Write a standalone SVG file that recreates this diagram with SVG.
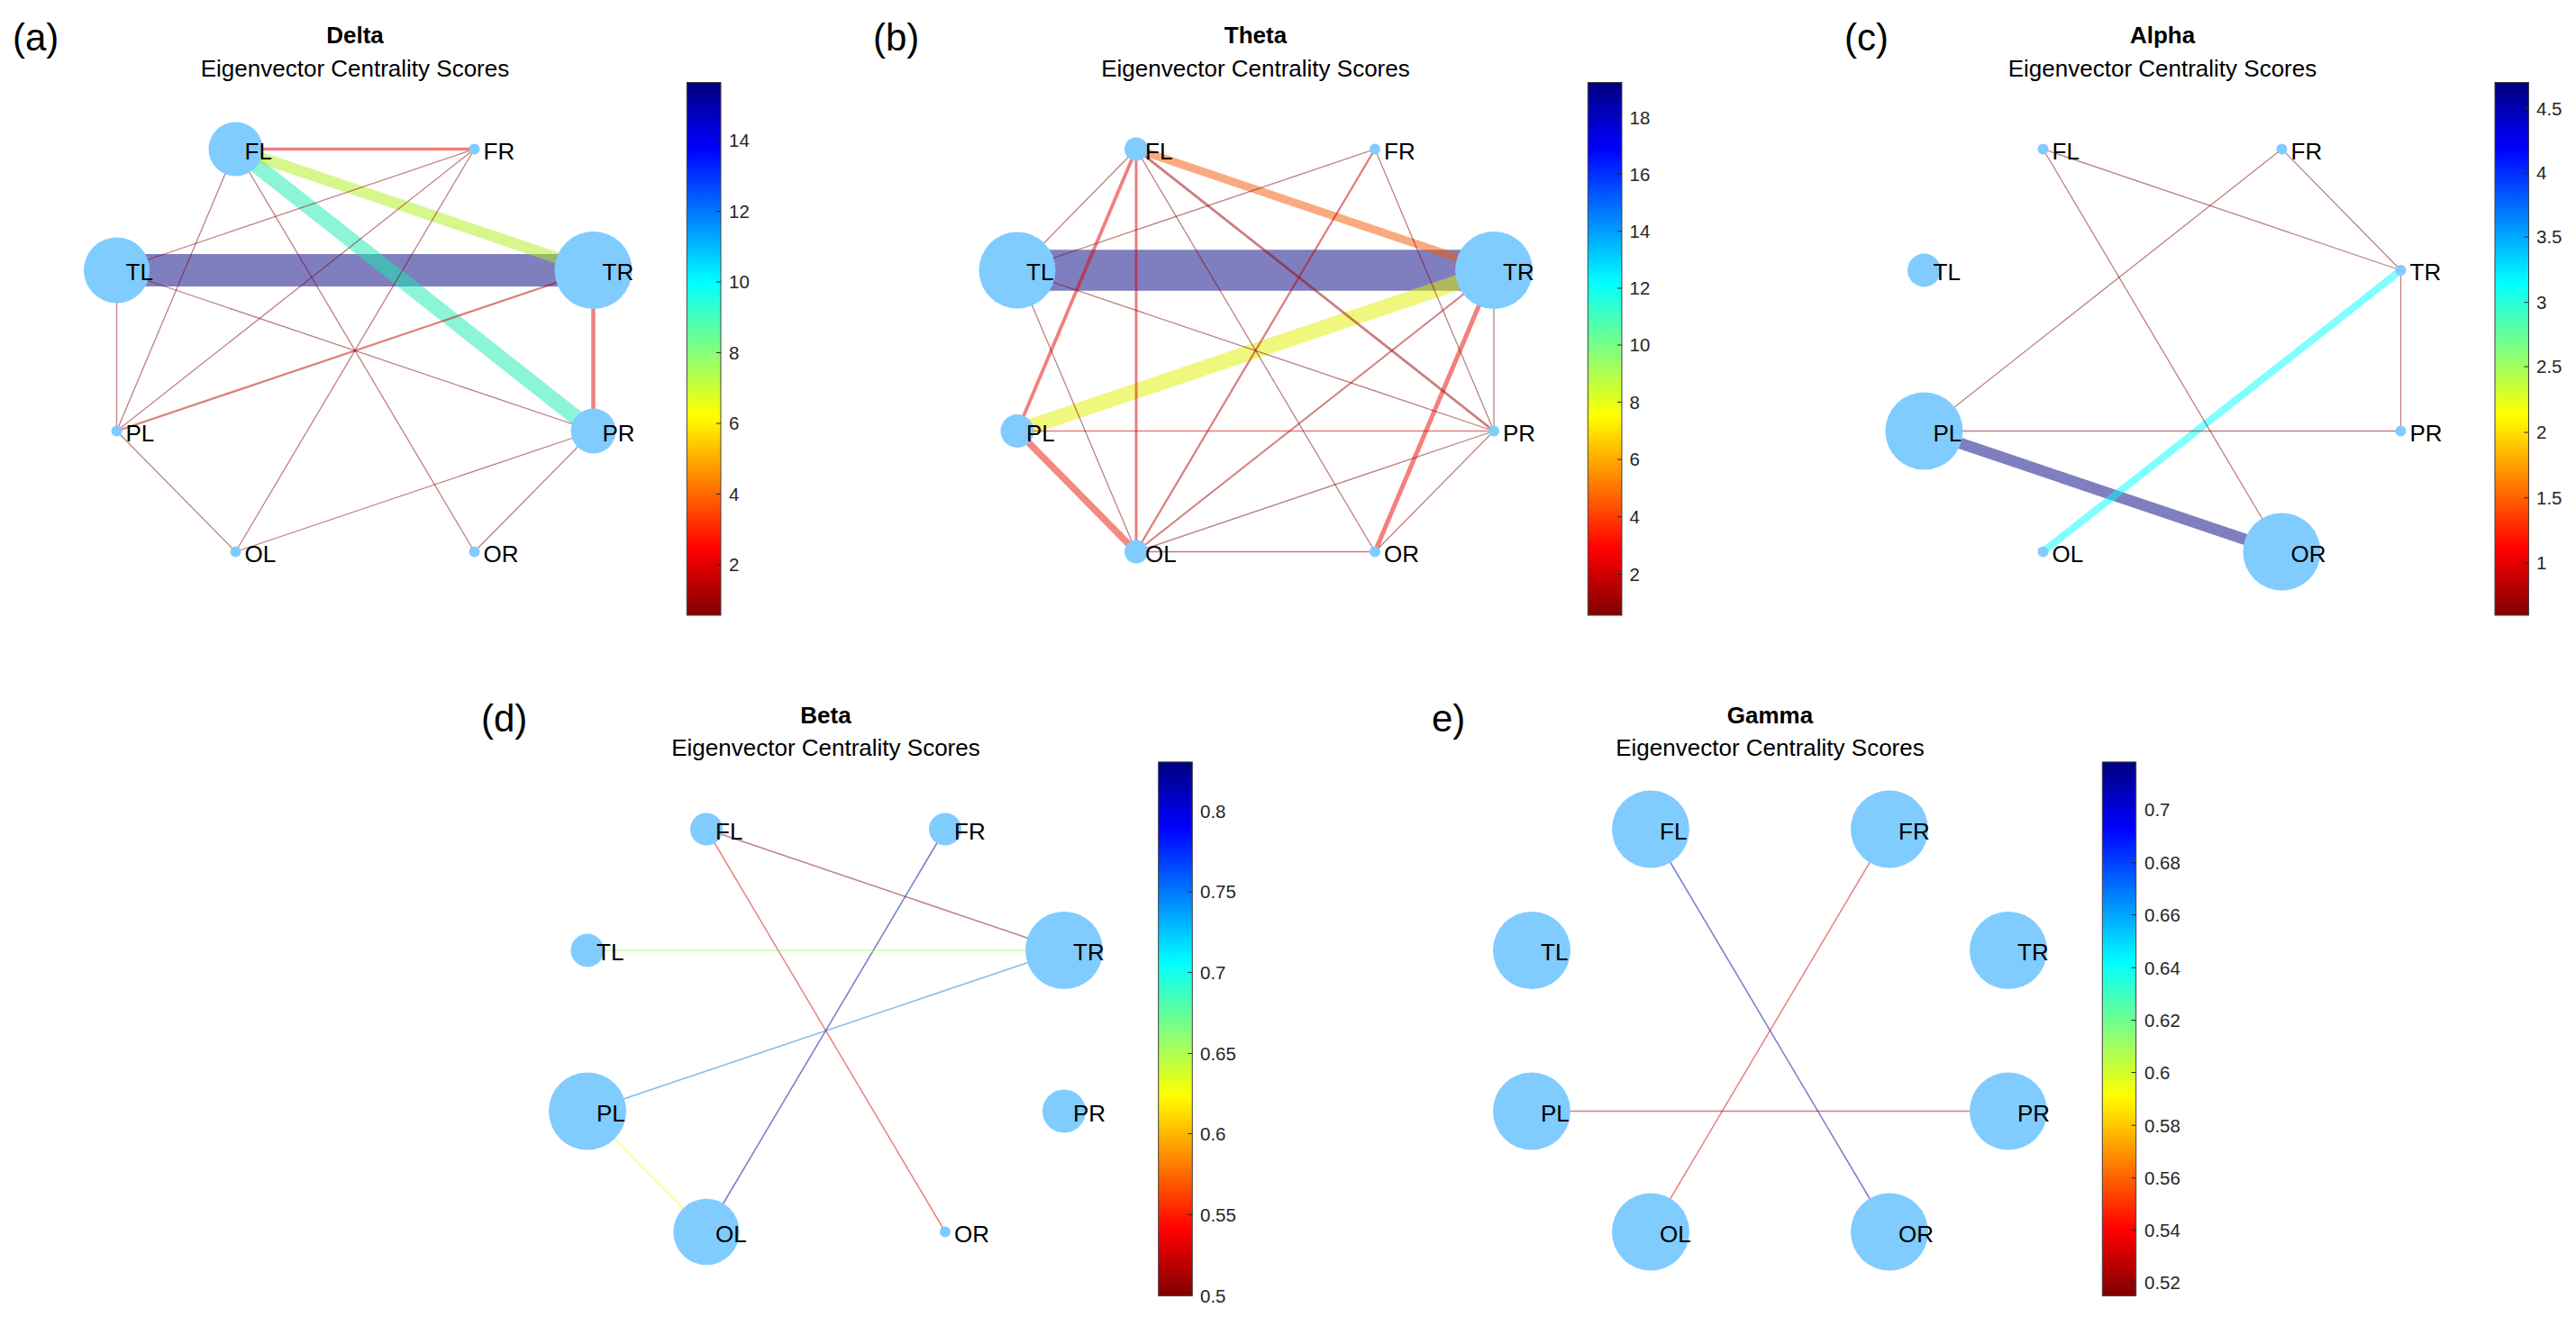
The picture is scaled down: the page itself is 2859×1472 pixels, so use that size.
<svg xmlns="http://www.w3.org/2000/svg" width="2859" height="1472" viewBox="0 0 2859 1472">
<style>
text{font-family:"Liberation Sans",Arial,Helvetica,sans-serif}
.plab{font-size:42px;fill:#000}
.ttl{font-size:26px;font-weight:bold;fill:#000;text-anchor:middle}
.sub{font-size:26px;fill:#000;text-anchor:middle}
.nl{font-size:26px;fill:#000}
.nd{fill:rgb(128,204,255)}
.e{fill:none;stroke-opacity:0.5;stroke-linecap:butt}
.thin{stroke:rgb(128,0,0);stroke-width:1.3}
.cb{stroke:#404040;stroke-width:1}
.tk{stroke:#262626;stroke-width:1}
.tl{font-size:20.5px;fill:#262626}
</style>
<defs>
<linearGradient id="jet" x1="0" y1="0" x2="0" y2="1">
<stop offset="0" stop-color="#000080"/>
<stop offset="0.125" stop-color="#0000FF"/>
<stop offset="0.375" stop-color="#00FFFF"/>
<stop offset="0.625" stop-color="#FFFF00"/>
<stop offset="0.875" stop-color="#FF0000"/>
<stop offset="1" stop-color="#800000"/>
</linearGradient>
</defs>
<rect width="2859" height="1472" fill="#fff"/>

<!-- Panel a -->
<g id="panel-a">
<text class="plab" x="14" y="56">(a)</text>
<text class="ttl" x="394" y="47.5">Delta</text>
<text class="sub" x="394" y="85">Eigenvector Centrality Scores</text>
<g id="a-connectors">
<line class="e" x1="129.5" y1="300" x2="658.5" y2="300" stroke="#00007F" stroke-width="36"/>
<line class="e" x1="261.5" y1="165.5" x2="658.5" y2="478.5" stroke="rgb(25,235,175)" stroke-width="17"/>
<line class="e" x1="261.5" y1="165.5" x2="658.5" y2="300" stroke="rgb(175,240,25)" stroke-width="12.5"/>
<line class="e" x1="261.5" y1="165.5" x2="526.5" y2="165.5" stroke="rgb(230,0,0)" stroke-width="3.6"/>
<line class="e" x1="658.5" y1="300" x2="658.5" y2="478.5" stroke="rgb(230,0,0)" stroke-width="4.5"/>
<line class="e" x1="129.5" y1="478.5" x2="658.5" y2="300" stroke="rgb(190,0,0)" stroke-width="2.3"/>
<line class="e thin" x1="261.5" y1="165.5" x2="129.5" y2="478.5"/>
<line class="e thin" x1="261.5" y1="165.5" x2="526.5" y2="612.5"/>
<line class="e thin" x1="526.5" y1="165.5" x2="129.5" y2="300"/>
<line class="e thin" x1="526.5" y1="165.5" x2="129.5" y2="478.5"/>
<line class="e thin" x1="526.5" y1="165.5" x2="261.5" y2="612.5"/>
<line class="e thin" x1="129.5" y1="300" x2="129.5" y2="478.5"/>
<line class="e thin" x1="129.5" y1="300" x2="658.5" y2="478.5"/>
<line class="e thin" x1="129.5" y1="478.5" x2="261.5" y2="612.5"/>
<line class="e thin" x1="261.5" y1="612.5" x2="658.5" y2="478.5"/>
<line class="e thin" x1="526.5" y1="612.5" x2="658.5" y2="478.5"/>
</g>
<g id="a-FL"><circle class="nd" cx="261.5" cy="165.5" r="30"/><text class="nl" x="271.5" y="176.5">FL</text></g>
<g id="a-FR"><circle class="nd" cx="526.5" cy="165.5" r="6"/><text class="nl" x="536.5" y="176.5">FR</text></g>
<g id="a-TL"><circle class="nd" cx="129.5" cy="300" r="36.5"/><text class="nl" x="139.5" y="311">TL</text></g>
<g id="a-TR"><circle class="nd" cx="658.5" cy="300" r="43"/><text class="nl" x="668.5" y="311">TR</text></g>
<g id="a-PL"><circle class="nd" cx="129.5" cy="478.5" r="6"/><text class="nl" x="139.5" y="489.5">PL</text></g>
<g id="a-PR"><circle class="nd" cx="658.5" cy="478.5" r="25"/><text class="nl" x="668.5" y="489.5">PR</text></g>
<g id="a-OL"><circle class="nd" cx="261.5" cy="612.5" r="6"/><text class="nl" x="271.5" y="623.5">OL</text></g>
<g id="a-OR"><circle class="nd" cx="526.5" cy="612.5" r="6"/><text class="nl" x="536.5" y="623.5">OR</text></g>
<g id="a-colorbar">
<rect class="cb" x="762.3" y="91.5" width="37.7" height="591.5" fill="url(#jet)"/>
<path class="tk" d="M795 627H800M795 548.5H800M795 470H800M795 391.5H800M795 313H800M795 234.5H800M795 156H800"/>
<text class="tl" x="809" y="634.3">2</text>
<text class="tl" x="809" y="555.8">4</text>
<text class="tl" x="809" y="477.3">6</text>
<text class="tl" x="809" y="398.8">8</text>
<text class="tl" x="809" y="320.3">10</text>
<text class="tl" x="809" y="241.8">12</text>
<text class="tl" x="809" y="163.3">14</text>
</g>
</g>

<!-- Panel b -->
<g id="panel-b">
<text class="plab" x="969" y="56">(b)</text>
<text class="ttl" x="1393.5" y="47.5">Theta</text>
<text class="sub" x="1393.5" y="85">Eigenvector Centrality Scores</text>
<g id="b-connectors">
<line class="e" x1="1129" y1="300" x2="1658" y2="300" stroke="#00007F" stroke-width="45.5"/>
<line class="e" x1="1129" y1="478.5" x2="1658" y2="300" stroke="rgb(225,240,0)" stroke-width="17"/>
<line class="e" x1="1261" y1="165.5" x2="1658" y2="300" stroke="rgb(245,85,0)" stroke-width="9"/>
<line class="e" x1="1129" y1="478.5" x2="1261" y2="612.5" stroke="rgb(235,20,0)" stroke-width="7.5"/>
<line class="e" x1="1261" y1="165.5" x2="1129" y2="478.5" stroke="rgb(230,0,0)" stroke-width="3.8"/>
<line class="e" x1="1261" y1="165.5" x2="1261" y2="612.5" stroke="rgb(220,0,0)" stroke-width="3"/>
<line class="e" x1="1658" y1="300" x2="1526" y2="612.5" stroke="rgb(235,0,0)" stroke-width="5"/>
<line class="e" x1="1261" y1="165.5" x2="1658" y2="478.5" stroke="rgb(150,0,0)" stroke-width="2.8"/>
<line class="e" x1="1526" y1="165.5" x2="1261" y2="612.5" stroke="rgb(190,0,0)" stroke-width="2.3"/>
<line class="e" x1="1658" y1="300" x2="1261" y2="612.5" stroke="rgb(170,0,0)" stroke-width="2"/>
<line class="e" x1="1129" y1="478.5" x2="1658" y2="478.5" stroke="rgb(210,0,0)" stroke-width="1.4"/>
<line class="e thin" x1="1261" y1="165.5" x2="1129" y2="300"/>
<line class="e thin" x1="1129" y1="300" x2="1526" y2="165.5"/>
<line class="e thin" x1="1129" y1="300" x2="1261" y2="612.5"/>
<line class="e thin" x1="1129" y1="300" x2="1658" y2="478.5"/>
<line class="e thin" x1="1261" y1="165.5" x2="1526" y2="612.5"/>
<line class="e thin" x1="1526" y1="165.5" x2="1658" y2="478.5"/>
<line class="e thin" x1="1658" y1="300" x2="1658" y2="478.5"/>
<line class="e thin" x1="1261" y1="612.5" x2="1658" y2="478.5"/>
<line class="e thin" x1="1261" y1="612.5" x2="1526" y2="612.5" stroke-width="1.1"/>
<line class="e thin" x1="1526" y1="612.5" x2="1658" y2="478.5" stroke-width="1.1"/>
</g>
<g id="b-FL"><circle class="nd" cx="1261" cy="165.5" r="13"/><text class="nl" x="1271" y="176.5">FL</text></g>
<g id="b-FR"><circle class="nd" cx="1526" cy="165.5" r="6"/><text class="nl" x="1536" y="176.5">FR</text></g>
<g id="b-TL"><circle class="nd" cx="1129" cy="300" r="42.5"/><text class="nl" x="1139" y="311">TL</text></g>
<g id="b-TR"><circle class="nd" cx="1658" cy="300" r="43"/><text class="nl" x="1668" y="311">TR</text></g>
<g id="b-PL"><circle class="nd" cx="1129" cy="478.5" r="18.5"/><text class="nl" x="1139" y="489.5">PL</text></g>
<g id="b-PR"><circle class="nd" cx="1658" cy="478.5" r="6"/><text class="nl" x="1668" y="489.5">PR</text></g>
<g id="b-OL"><circle class="nd" cx="1261" cy="612.5" r="13"/><text class="nl" x="1271" y="623.5">OL</text></g>
<g id="b-OR"><circle class="nd" cx="1526" cy="612.5" r="6"/><text class="nl" x="1536" y="623.5">OR</text></g>
<g id="b-colorbar">
<rect class="cb" x="1762.3" y="91.5" width="37.7" height="591.5" fill="url(#jet)"/>
<path class="tk" d="M1795 637.5H1800M1795 573.7H1800M1795 510H1800M1795 446.4H1800M1795 383H1800M1795 320H1800M1795 256.7H1800M1795 193.3H1800M1795 130.8H1800"/>
<text class="tl" x="1808.5" y="644.8">2</text>
<text class="tl" x="1808.5" y="581">4</text>
<text class="tl" x="1808.5" y="517.3">6</text>
<text class="tl" x="1808.5" y="453.7">8</text>
<text class="tl" x="1808.5" y="390.3">10</text>
<text class="tl" x="1808.5" y="327.3">12</text>
<text class="tl" x="1808.5" y="264">14</text>
<text class="tl" x="1808.5" y="200.6">16</text>
<text class="tl" x="1808.5" y="138.1">18</text>
</g>
</g>

<!-- Panel c -->
<g id="panel-c">
<text class="plab" x="2047" y="56">(c)</text>
<text class="ttl" x="2400" y="47.5">Alpha</text>
<text class="sub" x="2400" y="85">Eigenvector Centrality Scores</text>
<g id="c-connectors">
<line class="e" x1="2135.5" y1="478.5" x2="2532.5" y2="612.5" stroke="#00007F" stroke-width="12.5"/>
<line class="e" x1="2267.5" y1="612.5" x2="2664.5" y2="300" stroke="#00FFFF" stroke-width="8"/>
<line class="e thin" x1="2267.5" y1="165.5" x2="2664.5" y2="300" stroke="rgb(160,0,0)"/>
<line class="e thin" x1="2267.5" y1="165.5" x2="2532.5" y2="612.5" stroke="rgb(160,0,0)"/>
<line class="e thin" x1="2532.5" y1="165.5" x2="2135.5" y2="478.5" stroke="rgb(160,0,0)"/>
<line class="e thin" x1="2532.5" y1="165.5" x2="2664.5" y2="300" stroke="rgb(160,0,0)"/>
<line class="e thin" x1="2664.5" y1="300" x2="2664.5" y2="478.5" stroke="rgb(160,0,0)"/>
<line class="e thin" x1="2135.5" y1="478.5" x2="2664.5" y2="478.5" stroke="rgb(190,0,0)"/>
</g>
<g id="c-FL"><circle class="nd" cx="2267.5" cy="165.5" r="6"/><text class="nl" x="2277.5" y="176.5">FL</text></g>
<g id="c-FR"><circle class="nd" cx="2532.5" cy="165.5" r="6"/><text class="nl" x="2542.5" y="176.5">FR</text></g>
<g id="c-TL"><circle class="nd" cx="2135.5" cy="300" r="18.5"/><text class="nl" x="2145.5" y="311">TL</text></g>
<g id="c-TR"><circle class="nd" cx="2664.5" cy="300" r="6"/><text class="nl" x="2674.5" y="311">TR</text></g>
<g id="c-PL"><circle class="nd" cx="2135.5" cy="478.5" r="43"/><text class="nl" x="2145.5" y="489.5">PL</text></g>
<g id="c-PR"><circle class="nd" cx="2664.5" cy="478.5" r="6"/><text class="nl" x="2674.5" y="489.5">PR</text></g>
<g id="c-OL"><circle class="nd" cx="2267.5" cy="612.5" r="6"/><text class="nl" x="2277.5" y="623.5">OL</text></g>
<g id="c-OR"><circle class="nd" cx="2532.5" cy="612.5" r="43"/><text class="nl" x="2542.5" y="623.5">OR</text></g>
<g id="c-colorbar">
<rect class="cb" x="2769" y="91.5" width="37.5" height="591.5" fill="url(#jet)"/>
<path class="tk" d="M2801.5 625H2806.5M2801.5 552.7H2806.5M2801.5 480H2806.5M2801.5 407H2806.5M2801.5 335.7H2806.5M2801.5 263H2806.5M2801.5 192H2806.5M2801.5 120.5H2806.5"/>
<text class="tl" x="2815" y="632.3">1</text>
<text class="tl" x="2815" y="560">1.5</text>
<text class="tl" x="2815" y="487.3">2</text>
<text class="tl" x="2815" y="414.3">2.5</text>
<text class="tl" x="2815" y="343">3</text>
<text class="tl" x="2815" y="270.3">3.5</text>
<text class="tl" x="2815" y="199.3">4</text>
<text class="tl" x="2815" y="127.8">4.5</text>
</g>
</g>

<!-- Panel d -->
<g id="panel-d">
<text class="plab" x="534" y="812">(d)</text>
<text class="ttl" x="916.5" y="802.5">Beta</text>
<text class="sub" x="916.5" y="839">Eigenvector Centrality Scores</text>
<g id="d-connectors">
<line class="e" x1="784" y1="920.5" x2="1181" y2="1055" stroke="rgb(128,0,0)" stroke-width="1.5"/>
<line class="e" x1="784" y1="920.5" x2="1049" y2="1367.5" stroke="rgb(220,0,0)" stroke-width="1.5"/>
<line class="e" x1="1049" y1="920.5" x2="784" y2="1367.5" stroke="rgb(0,0,150)" stroke-width="1.6"/>
<line class="e" x1="652" y1="1055" x2="1181" y2="1055" stroke="rgb(150,255,60)" stroke-width="1.6"/>
<line class="e" x1="652" y1="1233.5" x2="1181" y2="1055" stroke="rgb(0,130,230)" stroke-width="1.6"/>
<line class="e" x1="652" y1="1233.5" x2="784" y2="1367.5" stroke="rgb(255,255,0)" stroke-width="1.6"/>
</g>
<g id="d-FL"><circle class="nd" cx="784" cy="920.5" r="18"/><text class="nl" x="794" y="931.5">FL</text></g>
<g id="d-FR"><circle class="nd" cx="1049" cy="920.5" r="18"/><text class="nl" x="1059" y="931.5">FR</text></g>
<g id="d-TL"><circle class="nd" cx="652" cy="1055" r="18.5"/><text class="nl" x="662" y="1066">TL</text></g>
<g id="d-TR"><circle class="nd" cx="1181" cy="1055" r="43"/><text class="nl" x="1191" y="1066">TR</text></g>
<g id="d-PL"><circle class="nd" cx="652" cy="1233.5" r="43"/><text class="nl" x="662" y="1244.5">PL</text></g>
<g id="d-PR"><circle class="nd" cx="1181" cy="1233.5" r="24"/><text class="nl" x="1191" y="1244.5">PR</text></g>
<g id="d-OL"><circle class="nd" cx="784" cy="1367.5" r="36.7"/><text class="nl" x="794" y="1378.5">OL</text></g>
<g id="d-OR"><circle class="nd" cx="1049" cy="1367.5" r="6"/><text class="nl" x="1059" y="1378.5">OR</text></g>
<g id="d-colorbar">
<rect class="cb" x="1285.7" y="845.9" width="37.6" height="592.7" fill="url(#jet)"/>
<path class="tk" d="M1318.3 1348.6H1323.3M1318.3 1258.6H1323.3M1318.3 1169.5H1323.3M1318.3 1079.5H1323.3M1318.3 989.9H1323.3M1318.3 900.7H1323.3"/>
<text class="tl" x="1332" y="1445.9">0.5</text>
<text class="tl" x="1332" y="1355.9">0.55</text>
<text class="tl" x="1332" y="1265.9">0.6</text>
<text class="tl" x="1332" y="1176.8">0.65</text>
<text class="tl" x="1332" y="1086.8">0.7</text>
<text class="tl" x="1332" y="997.2">0.75</text>
<text class="tl" x="1332" y="908">0.8</text>
</g>
</g>

<!-- Panel e -->
<g id="panel-e">
<text class="plab" x="1589" y="812">e)</text>
<text class="ttl" x="1964.5" y="802.5">Gamma</text>
<text class="sub" x="1964.5" y="839">Eigenvector Centrality Scores</text>
<g id="e-connectors">
<line class="e" x1="1832" y1="920.5" x2="2097" y2="1367.5" stroke="rgb(0,0,150)" stroke-width="1.6"/>
<line class="e" x1="2097" y1="920.5" x2="1832" y2="1367.5" stroke="rgb(220,0,0)" stroke-width="1.5"/>
<line class="e" x1="1700" y1="1233.5" x2="2229" y2="1233.5" stroke="rgb(160,0,0)" stroke-width="1.5"/>
</g>
<g id="e-FL"><circle class="nd" cx="1832" cy="920.5" r="43"/><text class="nl" x="1842" y="931.5">FL</text></g>
<g id="e-FR"><circle class="nd" cx="2097" cy="920.5" r="43"/><text class="nl" x="2107" y="931.5">FR</text></g>
<g id="e-TL"><circle class="nd" cx="1700" cy="1055" r="43"/><text class="nl" x="1710" y="1066">TL</text></g>
<g id="e-TR"><circle class="nd" cx="2229" cy="1055" r="43"/><text class="nl" x="2239" y="1066">TR</text></g>
<g id="e-PL"><circle class="nd" cx="1700" cy="1233.5" r="43"/><text class="nl" x="1710" y="1244.5">PL</text></g>
<g id="e-PR"><circle class="nd" cx="2229" cy="1233.5" r="43"/><text class="nl" x="2239" y="1244.5">PR</text></g>
<g id="e-OL"><circle class="nd" cx="1832" cy="1367.5" r="43"/><text class="nl" x="1842" y="1378.5">OL</text></g>
<g id="e-OR"><circle class="nd" cx="2097" cy="1367.5" r="43"/><text class="nl" x="2107" y="1378.5">OR</text></g>
<g id="e-colorbar">
<rect class="cb" x="2333.3" y="845.9" width="37.4" height="592.7" fill="url(#jet)"/>
<path class="tk" d="M2365.7 1423.6H2370.7M2365.7 1365.7H2370.7M2365.7 1307.9H2370.7M2365.7 1249.2H2370.7M2365.7 1190.5H2370.7M2365.7 1132.6H2370.7M2365.7 1074.3H2370.7M2365.7 1015.6H2370.7M2365.7 957.7H2370.7M2365.7 898.6H2370.7"/>
<text class="tl" x="2380" y="1430.9">0.52</text>
<text class="tl" x="2380" y="1373">0.54</text>
<text class="tl" x="2380" y="1315.2">0.56</text>
<text class="tl" x="2380" y="1256.5">0.58</text>
<text class="tl" x="2380" y="1197.8">0.6</text>
<text class="tl" x="2380" y="1139.9">0.62</text>
<text class="tl" x="2380" y="1081.6">0.64</text>
<text class="tl" x="2380" y="1022.9">0.66</text>
<text class="tl" x="2380" y="965">0.68</text>
<text class="tl" x="2380" y="905.9">0.7</text>
</g>
</g>
</svg>
